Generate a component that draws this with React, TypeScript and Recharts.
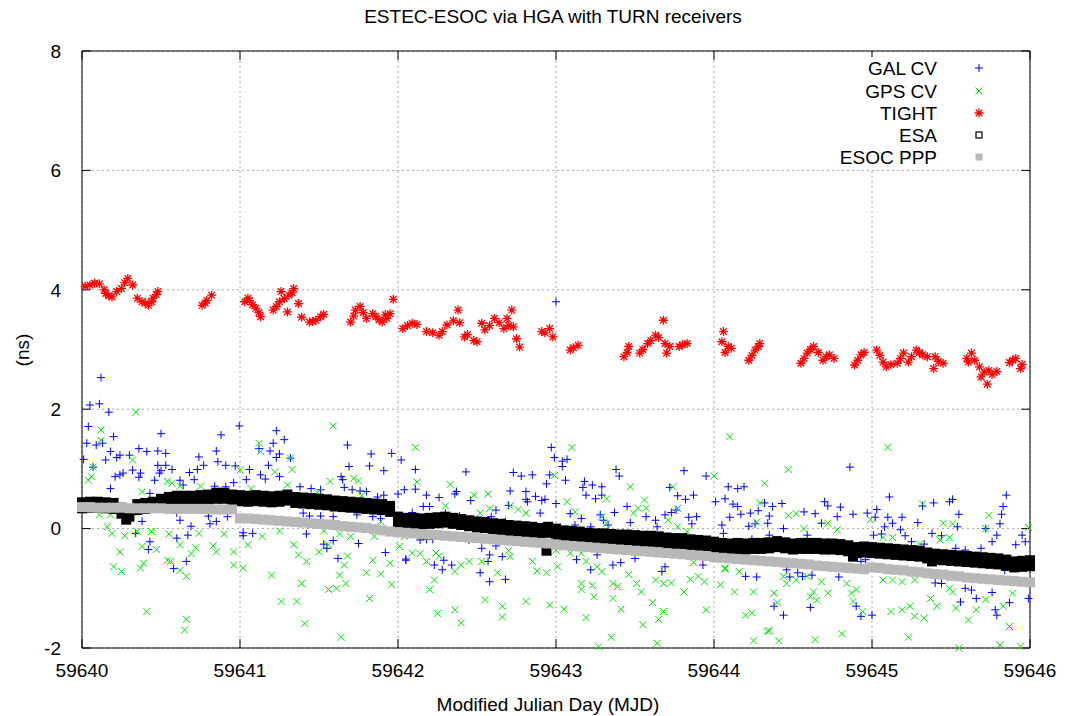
import React from "react";
import {
  ScatterChart,
  Scatter,
  XAxis,
  YAxis,
  CartesianGrid,
  ReferenceLine,
} from "recharts";

// MJD of the left edge; every pair below is [day offset from MJD0, ns]
const MJD0 = 59640;
const xTicks = [59640, 59641, 59642, 59643, 59644, 59645, 59646];
const yTicks = [-2, 0, 2, 4, 6, 8];

const galCv: [number, number][] = [
  [0.05, 2.07], [0.11, 2.09], [0.12, 2.53], [0.17, 1.95], [0.04, 1.71], [0.2, 1.54], [0.03, 1.43], [0.09, 1.4],
  [0.13, 1.43], [0.18, 1.29], [0.24, 1.23], [0.22, 1.19], [0.15, 1.15], [0.01, 1.16], [0.07, 1.03], [0.3, 1.23],
  [0.36, 1.34], [0.41, 1.29], [0.48, 1.3], [0.53, 1.26], [0.5, 1.59], [0.88, 1.57], [0.995, 1.72], [1.23, 1.64],
  [1.28, 1.49], [1.21, 1.43], [1.12, 1.34], [1.19, 1.3], [1.25, 1.25], [1.23, 1.19], [1.32, 1.18], [1.18, 1.06],
  [0.85, 1.3], [0.74, 1.2], [0.77, 1.06], [0.73, 0.99], [0.86, 1.12], [0.91, 1.06], [0.97, 1.05], [1.06, 0.99],
  [1.13, 0.9], [1.16, 0.83], [1.25, 0.87], [0.57, 0.99], [0.5, 0.97], [0.48, 1.06], [0.53, 1.06], [0.49, 0.93],
  [0.46, 0.81], [0.43, 0.59], [0.26, 0.93], [0.24, 0.9], [0.32, 0.98], [0.37, 0.93], [0.36, 0.86], [0.21, 0.87],
  [0.18, 0.67], [0.68, 0.94], [0.62, 0.81], [0.71, 0.82], [0.64, 0.73], [0.84, 0.71], [0.96, 0.77], [0.91, 0.7],
  [0.93, 0.6], [1.04, 0.82], [1.38, 0.7], [1.45, 0.67], [1.51, 0.65], [1.68, 1.4], [1.83, 1.25], [1.96, 1.26],
  [2.02, 1.15], [1.82, 1.05], [1.91, 0.97], [1.69, 1.04], [1.64, 0.87], [1.65, 0.82], [1.66, 0.69], [1.71, 0.65],
  [1.76, 0.63], [1.8, 0.62], [1.87, 0.53], [1.91, 0.56], [2.0, 0.58], [2.04, 0.65], [1.4, 0.26], [1.44, 0.21],
  [1.51, 0.21], [1.59, 0.2], [1.74, 0.23], [1.84, 0.2], [1.89, 0.17], [0.6, 0.26], [0.62, 0.14], [0.69, 0.04],
  [0.8, 0.21], [0.81, 0.08], [0.85, 0.12], [0.92, 0.2], [1.02, -0.07], [1.08, -0.08], [1.02, -0.12], [0.67, -0.11],
  [0.6, -0.16], [0.43, -0.22], [0.42, -0.35], [0.34, -0.08], [0.38, 0.12], [0.66, -0.55], [0.58, -0.67], [1.42, -0.09],
  [1.53, -0.26], [1.55, -0.33], [1.59, -0.2], [1.62, -0.5], [1.75, -0.25], [1.92, -0.4], [2.05, -0.51],
  [2.11, 0.99], [2.43, 0.95], [2.73, 0.94], [2.78, 0.88], [2.85, 0.9], [2.97, 1.36], [2.99, 1.19], [3.04, 1.13],
  [3.07, 1.16], [3.04, 1.04], [3.06, 0.81], [2.94, 0.75], [2.96, 0.9], [3.38, 0.99], [3.4, 0.88], [3.81, 0.97],
  [3.95, 0.88], [3.18, 0.79], [3.23, 0.73], [3.29, 0.7], [3.17, 0.69], [3.19, 0.56], [3.25, 0.5], [3.29, 0.56],
  [3.72, 0.69], [3.77, 0.55], [3.82, 0.49], [3.87, 0.56], [3.76, 0.31], [3.69, 0.23], [3.84, 0.19], [3.89, 0.2],
  [3.86, 0.08], [3.73, 0.27], [3.63, 0.14], [3.64, 0.03], [3.57, 0.2], [3.45, 0.37], [3.47, 0.1], [3.37, 0.27],
  [3.3, 0.14], [3.33, 0.06], [3.28, 0.23], [3.16, 0.17], [3.09, 0.25], [3.12, 0.06], [3.22, 0.03], [2.9, 0.26],
  [2.93, 0.49], [2.81, 0.49], [2.91, 0.47], [2.71, 0.63], [2.81, 0.62], [2.87, 0.54], [3.0, 0.42], [2.7, 0.39],
  [2.82, 0.45], [2.62, 0.31], [2.59, 0.2], [2.68, 0.12], [2.39, 0.21], [2.3, 0.26], [2.36, 0.58], [2.37, 0.62],
  [2.26, 0.52], [2.46, 0.47], [2.18, 0.56], [2.11, 0.66], [2.16, 0.37], [2.2, 0.37], [2.09, 0.27], [2.14, -0.19],
  [2.18, -0.18], [2.22, -0.18], [2.45, -0.19], [2.53, -0.33], [2.62, -0.29], [2.58, -0.44], [2.23, -0.61], [2.29, -0.53],
  [2.34, -0.61], [2.28, -0.69], [2.05, -0.53], [2.57, -0.55], [2.66, -0.47], [2.52, -0.74], [2.58, -0.89], [2.68, -0.85],
  [3.26, -0.44], [3.13, -0.52], [3.22, -0.69], [3.36, -0.61], [3.41, -0.57], [3.5, -0.5], [3.69, -0.64], [3.67, -0.72],
  [3.93, -0.61], [4.01, 0.45], [4.07, 0.5], [4.09, 0.7], [3.0, 3.8],
  [4.86, 1.03], [4.15, 0.67], [4.19, 0.7], [4.12, 0.41], [4.15, 0.37], [4.17, 0.24], [4.1, 0.19], [4.23, 0.26],
  [4.28, 0.3], [4.32, 0.43], [4.37, 0.37], [4.43, 0.42], [4.35, 0.21], [4.34, 0.09], [4.22, 0.04], [4.26, 0.08],
  [4.05, 0.06], [4.06, -0.08], [4.24, -0.18], [4.35, -0.11], [4.44, 0.0], [4.57, 0.28], [4.64, 0.25], [4.59, -0.11],
  [4.7, 0.45], [4.72, 0.38], [4.68, 0.09], [4.8, 0.36], [4.78, 0.2], [4.88, 0.24], [4.97, 0.26], [5.03, 0.32],
  [5.02, 0.19], [5.11, 0.53], [5.1, 0.19], [5.13, 0.09], [5.08, 0.03], [5.19, 0.19], [5.18, -0.02], [5.01, -0.11],
  [5.06, -0.09], [5.29, 0.1], [5.21, -0.12], [5.25, -0.22], [5.33, -0.26], [5.32, 0.38], [5.39, 0.43], [5.49, 0.45],
  [5.51, 0.49], [5.55, 0.24], [5.54, 0.03], [5.38, -0.08], [5.44, -0.12], [5.53, -0.33], [5.59, -0.36], [5.69, -0.33],
  [5.72, 0.0], [5.79, -0.11], [5.76, -0.22], [5.81, 0.08], [5.82, 0.24], [5.83, 0.37], [5.85, 0.56], [5.95, -0.11],
  [5.97, -0.22], [5.91, -0.27], [5.84, -0.7], [5.4, -0.91], [5.44, -0.92], [5.59, -1.0], [5.63, -1.03], [5.66, -1.17],
  [5.56, -1.23], [5.76, -1.07], [5.78, -1.36], [5.79, -1.45], [5.87, -1.24], [5.99, -1.17], [4.62, -0.78], [4.48, -0.81],
  [4.53, -0.74], [4.56, -0.8], [4.79, -0.81], [4.44, -1.45], [4.38, -1.3], [4.61, -1.32], [4.9, -1.3], [4.93, -1.47],
  [5.0, -1.45], [4.27, -0.81], [4.2, -0.8], [4.93, -0.55], [4.96, -0.52], [4.46, -0.69],
];

const gpsCv: [number, number][] = [
  [0.34, 1.95], [0.12, 1.65], [0.12, 1.48], [1.59, 1.72], [1.12, 1.43], [1.13, 1.29], [1.32, 1.18], [1.33, 0.99],
  [1.22, 0.95], [0.32, 1.15], [0.07, 1.03], [0.06, 0.87], [0.04, 0.81], [0.38, 0.62], [0.54, 0.79], [0.57, 0.76],
  [0.62, 0.71], [0.75, 0.71], [1.0, 0.98], [1.07, 0.67], [1.3, 0.73], [1.49, 0.6], [1.57, 0.79], [1.72, 0.84],
  [1.75, 0.8], [1.77, 0.55], [0.11, 0.23], [0.18, 0.23], [0.16, 0.03], [0.19, -0.08], [0.27, -0.12], [0.35, -0.05],
  [0.44, -0.05], [0.55, -0.09], [0.38, -0.3], [0.47, -0.35], [0.62, -0.27], [0.72, -0.32], [0.83, -0.29], [0.85, -0.39],
  [0.96, -0.39], [0.74, -0.08], [0.9, -0.09], [0.69, -0.42], [0.54, -0.53], [0.56, -0.55], [0.37, -0.66], [0.39, -0.58],
  [0.2, -0.64], [0.25, -0.72], [0.24, -0.39], [0.62, -0.7], [0.66, -0.8], [0.96, -0.61], [1.02, -0.66], [1.05, -0.27],
  [1.14, -0.13], [1.25, -0.04], [1.34, -0.27], [1.37, -0.44], [1.42, -0.55], [1.5, -0.39], [1.56, -0.27], [1.53, -0.04],
  [1.63, -0.09], [1.7, -0.13], [1.68, -0.46], [1.66, -0.61], [1.63, -0.78], [1.61, -1.0], [1.56, -1.02], [1.67, -0.92],
  [1.2, -0.78], [1.39, -0.92], [1.36, -1.22], [1.26, -1.22], [1.41, -1.59], [1.64, -1.82], [1.8, -0.74], [1.84, -0.53],
  [1.89, -0.76], [1.95, -0.58], [1.96, -0.94], [1.82, -1.17], [1.85, -0.13], [2.01, -0.3], [0.41, -1.39], [0.66, -1.52],
  [0.65, -1.7], [1.76, 0.04], [1.89, 0.12],
  [2.11, 1.36], [3.1, 1.36], [2.99, 0.89], [2.12, 0.78], [2.33, 0.74], [2.57, 0.58], [2.48, 0.56], [2.3, 0.38],
  [2.58, 0.34], [2.52, 0.26], [2.71, 0.38], [2.76, 0.32], [2.81, 0.26], [3.07, 0.45], [3.12, 0.28], [3.32, 0.5],
  [3.47, 0.7], [3.56, 0.48], [3.52, 0.34], [3.49, 0.26], [3.57, 0.34], [3.77, 0.34], [3.74, 0.7], [4.0, 0.88],
  [3.29, 0.2], [3.32, 0.09], [3.71, 0.14], [3.77, 0.03], [3.83, -0.05], [2.04, -0.13], [2.09, -0.41], [2.14, -0.42],
  [2.18, -0.55], [2.24, -0.41], [2.26, -0.46], [2.36, -0.72], [2.4, -0.61], [2.45, -0.55], [2.53, -0.55], [2.63, -0.74],
  [2.7, -0.37], [2.71, -0.47], [2.85, -0.55], [2.88, -0.71], [2.94, -0.74], [2.2, -1.02], [2.23, -0.86], [2.55, -1.19],
  [2.36, -1.36], [2.25, -1.42], [2.4, -1.58], [2.66, -1.3], [2.66, -1.48], [2.81, -1.22], [2.96, -1.28], [3.05, -1.35],
  [3.09, -0.41], [3.16, -0.41], [3.19, -0.55], [3.26, -0.64], [3.29, -0.72], [3.16, -0.92], [3.23, -0.95], [3.24, -1.14],
  [3.16, -1.02], [3.36, -0.92], [3.36, -1.17], [3.39, -0.97], [3.46, -0.77], [3.51, -0.92], [3.54, -1.06], [3.41, -1.35],
  [3.19, -1.49], [3.35, -1.82], [3.27, -1.98], [3.61, -1.24], [3.68, -1.39], [3.65, -1.52], [3.55, -1.61], [3.64, -1.92],
  [3.63, -0.86], [3.68, -0.92], [3.73, -0.91], [3.81, -1.06], [3.85, -0.85], [3.9, -0.8], [3.94, -0.89], [3.95, -1.36],
  [4.04, -0.94], [4.07, -0.68], [3.87, -0.57], [3.01, -0.64], [3.0, -0.36],
  [4.1, 1.54], [5.1, 1.36], [4.47, 0.99], [4.32, 0.76], [4.29, 0.43], [4.27, 0.11], [4.47, 0.22], [4.52, 0.25],
  [4.57, 0.0], [4.72, 0.09], [4.78, -0.02], [4.99, 0.15], [5.32, 0.41], [5.45, 0.09], [5.51, 0.08], [5.74, 0.22],
  [5.72, 0.0], [5.99, 0.02], [5.07, -0.15], [5.13, -0.15], [5.3, -0.26], [5.43, -0.19], [5.49, -0.15], [4.07, -0.66],
  [4.16, -0.72], [4.13, -1.06], [4.25, -1.06], [4.38, -1.08], [4.4, -1.24], [4.2, -1.45], [4.24, -1.41], [4.35, -1.71],
  [4.25, -1.88], [4.41, -1.88], [4.64, -1.86], [4.81, -1.76], [4.46, -0.92], [4.44, -0.8], [4.52, -0.86], [4.61, -1.14],
  [4.65, -1.2], [4.68, -0.89], [4.72, -1.08], [4.84, -0.92], [4.87, -1.08], [4.9, -1.02], [4.88, -1.22], [4.94, -1.39],
  [5.07, -0.86], [5.13, -0.86], [5.19, -0.89], [5.27, -0.86], [5.12, -1.39], [5.19, -1.36], [5.24, -1.3], [5.27, -1.47],
  [5.33, -1.5], [5.37, -1.17], [5.41, -1.3], [5.49, -1.0], [5.53, -1.33], [5.61, -1.53], [5.66, -1.36], [5.72, -1.19],
  [5.83, -1.3], [5.89, -1.08], [5.87, -1.64], [5.81, -1.95], [5.94, -1.97], [5.51, -1.06], [5.23, -1.82], [4.63, -1.06],
  [4.59, -0.8], [5.43, -0.46], [5.37, -0.55], [4.34, -1.72], [5.55, -2.0],
];

const tight: [number, number][] = [
  [0.02, 4.06], [0.05, 4.08], [0.08, 4.11], [0.11, 4.1], [0.14, 4.0], [0.15, 3.94], [0.17, 3.9], [0.19, 3.88],
  [0.22, 3.97], [0.25, 4.02], [0.27, 4.12], [0.29, 4.19], [0.32, 4.08], [0.35, 3.86], [0.38, 3.8], [0.4, 3.78],
  [0.42, 3.74], [0.44, 3.8], [0.45, 3.86], [0.47, 3.92], [0.48, 3.97], [0.76, 3.74], [0.78, 3.78], [0.79, 3.82],
  [0.82, 3.91], [1.03, 3.8], [1.05, 3.86], [1.06, 3.82], [1.08, 3.75], [1.1, 3.69], [1.12, 3.62], [1.13, 3.55],
  [1.21, 3.66], [1.23, 3.72], [1.25, 3.8], [1.26, 3.97], [1.28, 3.85], [1.31, 3.91], [1.33, 3.95], [1.34, 4.02],
  [1.3, 3.63], [1.37, 3.77], [1.39, 3.54], [1.44, 3.46], [1.46, 3.47], [1.48, 3.49], [1.51, 3.55], [1.53, 3.59],
  [1.7, 3.46], [1.72, 3.56], [1.73, 3.66], [1.76, 3.72], [1.78, 3.62], [1.8, 3.52], [1.84, 3.6], [1.86, 3.55],
  [1.88, 3.5], [1.9, 3.46], [1.92, 3.58], [1.93, 3.52], [1.95, 3.6], [1.97, 3.84], [2.03, 3.35], [2.06, 3.4],
  [2.09, 3.44], [2.12, 3.42], [2.18, 3.3], [2.22, 3.28], [2.26, 3.24], [2.28, 3.3], [2.31, 3.41], [2.35, 3.48],
  [2.38, 3.66], [2.39, 3.45], [2.42, 3.21], [2.44, 3.25], [2.48, 3.15], [2.5, 3.13], [2.53, 3.44], [2.55, 3.33],
  [2.58, 3.4], [2.61, 3.52], [2.64, 3.45], [2.67, 3.35], [2.69, 3.52], [2.7, 3.4], [2.72, 3.66], [2.73, 3.38],
  [2.75, 3.18], [2.77, 3.04], [2.91, 3.3], [2.93, 3.28], [2.96, 3.35], [2.98, 3.21], [3.09, 2.99], [3.11, 3.03],
  [3.14, 3.07], [3.43, 2.88], [3.45, 2.95], [3.46, 3.05], [3.53, 2.94], [3.55, 3.0], [3.58, 3.1], [3.6, 3.15],
  [3.63, 3.24], [3.65, 3.2], [3.68, 3.49], [3.7, 2.94], [3.69, 3.1], [3.72, 3.05], [3.78, 3.05], [3.8, 3.08],
  [3.83, 3.1], [4.05, 3.13], [4.06, 3.3], [4.07, 2.95], [4.09, 3.05], [4.11, 3.02], [4.22, 2.82], [4.24, 2.9],
  [4.26, 2.99], [4.28, 3.05], [4.29, 3.1], [4.55, 2.77], [4.57, 2.85], [4.59, 2.94], [4.61, 3.0], [4.63, 3.05],
  [4.66, 2.95], [4.69, 2.82], [4.71, 2.88], [4.73, 2.91], [4.76, 2.85], [4.89, 2.74], [4.91, 2.82], [4.93, 2.91],
  [4.95, 2.95], [5.03, 2.99], [5.05, 2.9], [5.07, 2.79], [5.09, 2.71], [5.12, 2.75], [5.16, 2.77], [5.18, 2.85],
  [5.2, 2.94], [5.23, 2.79], [5.25, 2.88], [5.28, 2.99], [5.3, 2.95], [5.32, 2.91], [5.35, 2.88], [5.39, 2.68],
  [5.4, 2.88], [5.42, 2.8], [5.45, 2.77], [5.6, 2.85], [5.61, 2.79], [5.63, 2.94], [5.65, 2.82], [5.68, 2.71],
  [5.69, 2.54], [5.71, 2.62], [5.73, 2.42], [5.74, 2.65], [5.76, 2.58], [5.79, 2.63], [5.87, 2.78], [5.89, 2.82],
  [5.91, 2.85], [5.94, 2.68], [5.95, 2.75],
];

const esa: [number, number][] = [
  [0.0, 0.39], [0.05, 0.4], [0.1, 0.4], [0.15, 0.39], [0.2, 0.38], [0.25, 0.3], [0.28, 0.2], [0.3, 0.25],
  [0.35, 0.36], [0.4, 0.38], [0.45, 0.4], [0.5, 0.45], [0.55, 0.48], [0.6, 0.5], [0.65, 0.5], [0.7, 0.5],
  [0.75, 0.51], [0.8, 0.52], [0.85, 0.55], [0.9, 0.55], [0.95, 0.52], [1.0, 0.51], [1.05, 0.5], [1.1, 0.51],
  [1.15, 0.5], [1.2, 0.49], [1.25, 0.5], [1.3, 0.52], [1.35, 0.48], [1.4, 0.47], [1.45, 0.46], [1.5, 0.45],
  [1.55, 0.44], [1.6, 0.42], [1.65, 0.41], [1.7, 0.4], [1.75, 0.39], [1.8, 0.38], [1.85, 0.37], [1.9, 0.36],
  [1.95, 0.33], [2.0, 0.15], [2.05, 0.13], [2.1, 0.13], [2.15, 0.12], [2.2, 0.13], [2.25, 0.14], [2.3, 0.15],
  [2.35, 0.13], [2.4, 0.11], [2.45, 0.09], [2.5, 0.07], [2.55, 0.06], [2.6, 0.04], [2.65, 0.03], [2.7, 0.01],
  [2.75, 0.0], [2.8, -0.01], [2.85, -0.02], [2.9, -0.04], [2.94, -0.32], [2.95, -0.02], [3.0, -0.05], [3.05, -0.08],
  [3.1, -0.09], [3.15, -0.1], [3.2, -0.12], [3.25, -0.13], [3.3, -0.13], [3.35, -0.14], [3.4, -0.15], [3.45, -0.15],
  [3.5, -0.16], [3.55, -0.17], [3.6, -0.17], [3.65, -0.18], [3.7, -0.2], [3.75, -0.21], [3.8, -0.21], [3.85, -0.23],
  [3.9, -0.24], [3.95, -0.25], [4.0, -0.27], [4.05, -0.29], [4.1, -0.3], [4.15, -0.29], [4.2, -0.3], [4.25, -0.29],
  [4.3, -0.29], [4.35, -0.28], [4.4, -0.26], [4.45, -0.28], [4.5, -0.3], [4.55, -0.29], [4.6, -0.29], [4.65, -0.29],
  [4.7, -0.3], [4.75, -0.3], [4.8, -0.31], [4.85, -0.33], [4.88, -0.42], [4.9, -0.36], [4.95, -0.35], [5.0, -0.36],
  [5.05, -0.37], [5.1, -0.38], [5.15, -0.39], [5.2, -0.4], [5.25, -0.41], [5.3, -0.42], [5.35, -0.45], [5.38, -0.5],
  [5.4, -0.47], [5.45, -0.48], [5.5, -0.49], [5.55, -0.5], [5.6, -0.51], [5.65, -0.52], [5.7, -0.53], [5.75, -0.54],
  [5.8, -0.55], [5.85, -0.57], [5.9, -0.6], [5.95, -0.59], [6.0, -0.58],
];

const esocPpp: [number, number][] = [
  [0.0, 0.36], [0.05, 0.36], [0.1, 0.35], [0.15, 0.35], [0.2, 0.35], [0.25, 0.35], [0.3, 0.34], [0.35, 0.34],
  [0.4, 0.34], [0.45, 0.34], [0.5, 0.34], [0.55, 0.33], [0.6, 0.33], [0.65, 0.33], [0.7, 0.33], [0.75, 0.33],
  [0.8, 0.33], [0.85, 0.32], [0.9, 0.32], [0.95, 0.32], [1.0, 0.17], [1.05, 0.17], [1.1, 0.16], [1.15, 0.15],
  [1.2, 0.14], [1.25, 0.13], [1.3, 0.12], [1.35, 0.11], [1.4, 0.1], [1.45, 0.09], [1.5, 0.08], [1.55, 0.07],
  [1.6, 0.06], [1.65, 0.04], [1.7, 0.03], [1.75, 0.02], [1.8, 0.01], [1.85, -0.01], [1.9, -0.03], [1.95, -0.05],
  [2.0, -0.06], [2.05, -0.07], [2.1, -0.08], [2.15, -0.09], [2.2, -0.1], [2.25, -0.11], [2.3, -0.12], [2.35, -0.13],
  [2.4, -0.14], [2.45, -0.15], [2.5, -0.16], [2.55, -0.17], [2.6, -0.18], [2.65, -0.19], [2.7, -0.2], [2.75, -0.21],
  [2.8, -0.22], [2.85, -0.23], [2.9, -0.24], [2.95, -0.25], [3.0, -0.27], [3.05, -0.28], [3.1, -0.29], [3.15, -0.3],
  [3.2, -0.31], [3.25, -0.32], [3.3, -0.33], [3.35, -0.34], [3.4, -0.35], [3.45, -0.36], [3.5, -0.37], [3.55, -0.38],
  [3.6, -0.39], [3.65, -0.4], [3.7, -0.41], [3.75, -0.42], [3.8, -0.43], [3.85, -0.44], [3.9, -0.45], [3.95, -0.46],
  [4.0, -0.48], [4.05, -0.49], [4.1, -0.5], [4.15, -0.51], [4.2, -0.52], [4.25, -0.53], [4.3, -0.54], [4.35, -0.55],
  [4.4, -0.56], [4.45, -0.57], [4.5, -0.58], [4.55, -0.59], [4.6, -0.6], [4.65, -0.62], [4.7, -0.63], [4.75, -0.64],
  [4.8, -0.65], [4.85, -0.66], [4.9, -0.67], [4.95, -0.68], [5.0, -0.65], [5.05, -0.66], [5.1, -0.68], [5.15, -0.69],
  [5.2, -0.7], [5.25, -0.72], [5.3, -0.73], [5.35, -0.75], [5.4, -0.76], [5.45, -0.77], [5.5, -0.79], [5.55, -0.8],
  [5.6, -0.82], [5.65, -0.83], [5.7, -0.84], [5.75, -0.85], [5.8, -0.86], [5.85, -0.87], [5.9, -0.88], [5.95, -0.89],
  [6.0, -0.9],
];

const FONT = "'Liberation Sans', Arial, Helvetica, sans-serif";
const BLUE = "#0000ff";
const GREEN = "#00e800";
const RED = "#ff0000";
const GRAY = "#b8b8b8";

const rows = (pts: [number, number][]) => pts.map(([d, v]) => ({ x: MJD0 + d, y: v }));

const PlusMark = ({ cx, cy }: any) => (
  <path d={`M${cx - 4},${cy}H${cx + 4}M${cx},${cy - 4}V${cy + 4}`} stroke={BLUE} strokeWidth={1} fill="none" />
);
const CrossMark = ({ cx, cy }: any) => (
  <path
    d={`M${cx - 3.5},${cy - 3.5}L${cx + 3.5},${cy + 3.5}M${cx - 3.5},${cy + 3.5}L${cx + 3.5},${cy - 3.5}`}
    stroke={GREEN}
    strokeWidth={1}
    fill="none"
  />
);
const StarMark = ({ cx, cy }: any) => (
  <path
    d={`M${cx - 4.5},${cy}H${cx + 4.5}M${cx},${cy - 4.5}V${cy + 4.5}M${cx - 3.3},${cy - 3.3}L${cx + 3.3},${cy + 3.3}M${cx - 3.3},${cy + 3.3}L${cx + 3.3},${cy - 3.3}`}
    stroke={RED}
    strokeWidth={1.3}
    fill="none"
  />
);
const EsaMark = ({ cx, cy }: any) => <rect x={cx - 5} y={cy - 8} width={10} height={16} fill="#000" />;
const PppMark = ({ cx, cy }: any) => <rect x={cx - 5} y={cy - 5} width={10} height={10} fill={GRAY} />;

const legendRows = [
  { label: "GAL CV", y: 68, mark: (cx: number, cy: number) => <PlusMark cx={cx} cy={cy} /> },
  { label: "GPS CV", y: 91, mark: (cx: number, cy: number) => <CrossMark cx={cx} cy={cy} /> },
  { label: "TIGHT", y: 113, mark: (cx: number, cy: number) => <StarMark cx={cx} cy={cy} /> },
  {
    label: "ESA",
    y: 135,
    mark: (cx: number, cy: number) => (
      <rect x={cx - 3} y={cy - 3} width={6} height={6} fill="none" stroke="#000" strokeWidth={1.2} />
    ),
  },
  {
    label: "ESOC PPP",
    y: 157,
    mark: (cx: number, cy: number) => <rect x={cx - 3.5} y={cy - 3.5} width={7} height={7} fill={GRAY} />,
  },
];

const TX = 0.055; // inward tick length, days
const TY = 0.15; // inward tick length, ns

export default function App() {
  const axisTick = { fill: "#000", fontSize: 19, fontFamily: FONT };
  return (
    <div style={{ position: "absolute", left: 0, top: 0, width: 1072, height: 716, background: "#fff", fontFamily: FONT }}>
      <ScatterChart width={1072} height={716} margin={{ top: 51, right: 42, bottom: 38, left: 22 }}>
        <CartesianGrid stroke="#a8a8a8" strokeDasharray="2 3" />
        <XAxis
          type="number"
          dataKey="x"
          domain={[59640, 59646]}
          ticks={xTicks}
          interval={0}
          height={30}
          tickSize={0}
          tickMargin={16}
          tickLine={false}
          axisLine={{ stroke: "#000", strokeWidth: 1 }}
          tick={axisTick}
        />
        <YAxis
          type="number"
          dataKey="y"
          domain={[-2, 8]}
          ticks={yTicks}
          interval={0}
          width={60}
          tickSize={0}
          tickMargin={21}
          tickLine={false}
          axisLine={{ stroke: "#000", strokeWidth: 1 }}
          tick={axisTick}
        />
        <Scatter name="GAL CV" data={rows(galCv)} shape={PlusMark} isAnimationActive={false} />
        <Scatter name="GPS CV" data={rows(gpsCv)} shape={CrossMark} isAnimationActive={false} />
        <Scatter name="TIGHT" data={rows(tight)} shape={StarMark} isAnimationActive={false} />
        <Scatter name="ESA" data={rows(esa)} shape={EsaMark} isAnimationActive={false} />
        <Scatter name="ESOC PPP" data={rows(esocPpp)} shape={PppMark} isAnimationActive={false} />
        {xTicks.map((t) => (
          <ReferenceLine key={`xb${t}`} segment={[{ x: t, y: -2 }, { x: t, y: -2 + TY }]} stroke="#000" />
        ))}
        {xTicks.map((t) => (
          <ReferenceLine key={`xt${t}`} segment={[{ x: t, y: 8 }, { x: t, y: 8 - TY }]} stroke="#000" />
        ))}
        {yTicks.map((t) => (
          <ReferenceLine key={`yl${t}`} segment={[{ x: 59640, y: t }, { x: 59640 + TX, y: t }]} stroke="#000" />
        ))}
        {yTicks.map((t) => (
          <ReferenceLine key={`yr${t}`} segment={[{ x: 59646, y: t }, { x: 59646 - TX, y: t }]} stroke="#000" />
        ))}
        <ReferenceLine y={8} stroke="#000" />
        <ReferenceLine x={59646} stroke="#000" />
      </ScatterChart>
      <svg
        width={1072}
        height={716}
        style={{ position: "absolute", left: 0, top: 0, pointerEvents: "none" }}
        fontFamily={FONT}
      >
        <text x={553} y={23} textAnchor="middle" fontSize={19} fill="#000">
          ESTEC-ESOC via HGA with TURN receivers
        </text>
        <text x={548} y={711} textAnchor="middle" fontSize={19} fill="#000">
          Modified Julian Day (MJD)
        </text>
        <text x={29} y={350} textAnchor="middle" fontSize={19} fill="#000" transform="rotate(-90 29 350)">
          (ns)
        </text>
        {legendRows.map((r) => (
          <g key={r.label}>
            <rect x={830} y={r.y - 11} width={165} height={22} fill="#fff" />
            <text x={937} y={r.y + 7} textAnchor="end" fontSize={19} fill="#000">
              {r.label}
            </text>
            {r.mark(979, r.y)}
          </g>
        ))}
      </svg>
    </div>
  );
}
